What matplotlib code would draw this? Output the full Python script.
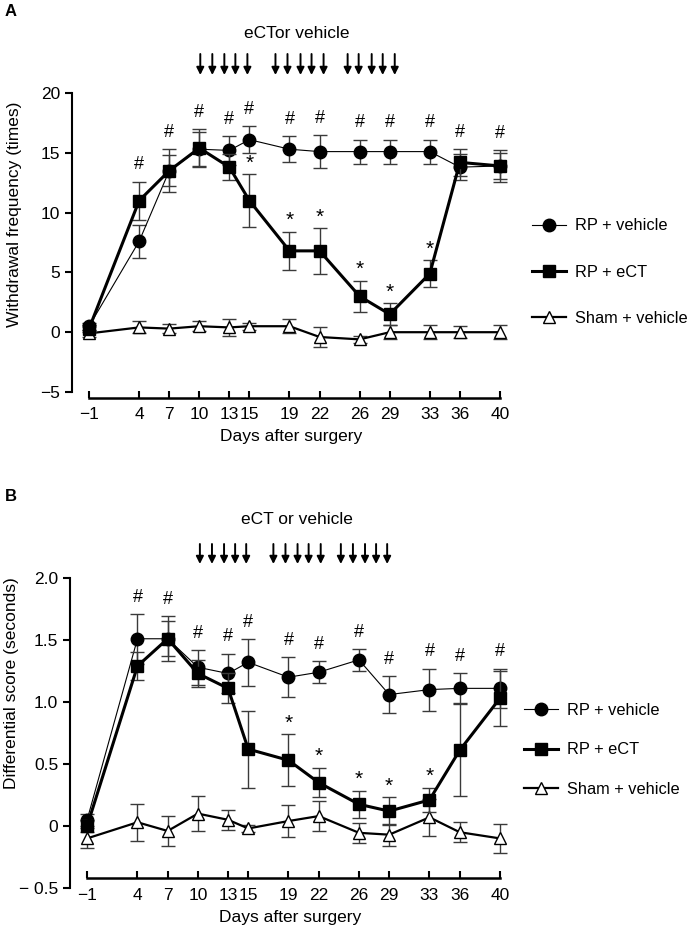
import matplotlib.pyplot as plt
from matplotlib.lines import Line2D

plt.rcParams['font.family'] = ['Liberation Sans', 'DejaVu Sans']
plt.rcParams['font.size'] = 12.5

days = [-1, 4, 7, 10, 13, 15, 19, 22, 26, 29, 33, 36, 40]

# panel A - withdrawal frequency
a_veh = [0.5, 7.6, 13.5, 15.3, 15.2, 16.1, 15.3, 15.1, 15.1, 15.1, 15.1, 13.8, 13.9]
a_veh_err = [0.3, 1.4, 1.8, 1.4, 1.2, 1.1, 1.1, 1.4, 1.0, 1.0, 1.0, 1.1, 1.3]
a_ect = [0.3, 11.0, 13.5, 15.4, 13.8, 11.0, 6.8, 6.8, 3.0, 1.5, 4.9, 14.2, 13.9]
a_ect_err = [0.3, 1.6, 1.3, 1.6, 1.1, 2.2, 1.6, 1.9, 1.3, 0.9, 1.1, 1.1, 1.1]
a_sham = [-0.1, 0.4, 0.3, 0.5, 0.4, 0.5, 0.5, -0.4, -0.6, 0.0, 0.0, 0.0, 0.0]
a_sham_err = [0.3, 0.5, 0.4, 0.4, 0.7, 0.3, 0.6, 0.8, 0.3, 0.6, 0.6, 0.5, 0.6]
a_hash_days = [4, 7, 10, 13, 15, 19, 22, 26, 29, 33, 36, 40]
a_star_days = [15, 19, 22, 26, 29, 33]
a_inject = [10.1, 11.3, 12.5, 13.6, 14.8, 17.6, 18.8, 20.1, 21.2, 22.4,
            24.8, 25.9, 27.2, 28.3, 29.5]

# panel B - differential score
b_veh = [0.05, 1.51, 1.51, 1.28, 1.23, 1.32, 1.20, 1.24, 1.34, 1.06, 1.10, 1.11, 1.11]
b_veh_err = [0.05, 0.20, 0.18, 0.14, 0.16, 0.19, 0.16, 0.09, 0.09, 0.15, 0.17, 0.12, 0.16]
b_ect = [0.0, 1.29, 1.51, 1.23, 1.11, 0.62, 0.53, 0.35, 0.175, 0.12, 0.21, 0.61, 1.03]
b_ect_err = [0.05, 0.11, 0.14, 0.11, 0.12, 0.31, 0.21, 0.12, 0.11, 0.11, 0.10, 0.37, 0.22]
b_sham = [-0.10, 0.03, -0.04, 0.10, 0.05, -0.02, 0.04, 0.08, -0.055, -0.07, 0.07, -0.05, -0.10]
b_sham_err = [0.08, 0.15, 0.12, 0.14, 0.08, 0.03, 0.13, 0.12, 0.08, 0.09, 0.15, 0.08, 0.12]
b_hash_days = [4, 7, 10, 13, 15, 19, 22, 26, 29, 33, 36, 40]
b_star_days = [19, 22, 26, 29, 33]
b_inject = [10.2, 11.4, 12.6, 13.7, 14.8, 17.5, 18.7, 19.9, 21.0, 22.2,
            24.2, 25.4, 26.6, 27.7, 28.8]

fig = plt.figure(figsize=(6.9, 9.38), dpi=100)
W, H = 690, 938


def panel(rect, veh, veh_err, ect, ect_err, sham, sham_err, hash_days, star_days,
          inject, ylim, yticks, yticklabels, ylabel, label_y, title, title_y,
          arrow_top, arrow_bot, xspine, legend_xy, legend_space, letter, letter_y):
    ax = fig.add_axes(rect)
    ekw = dict(ecolor='#3a3a3a', elinewidth=1, capsize=5, capthick=1)
    ax.errorbar(days, sham, yerr=sham_err, color='black', lw=1.6, marker='^',
                ms=9, mfc='white', mec='black', mew=1.0, zorder=3, **ekw)
    ax.errorbar(days, veh, yerr=veh_err, color='black', lw=0.8, marker='o',
                ms=9, mfc='black', zorder=4, **ekw)
    ax.errorbar(days, ect, yerr=ect_err, color='black', lw=2.2, marker='s',
                ms=9, mfc='black', zorder=5, **ekw)

    # significance marks
    for d in hash_days:
        i = days.index(d)
        top = max(veh[i] + veh_err[i], ect[i] + ect_err[i])
        ax.annotate('#', xy=(d, top), xytext=(0, 12), textcoords='offset points',
                    ha='center', va='center', fontsize=13)
    for d in star_days:
        i = days.index(d)
        ax.annotate('*', xy=(d, ect[i] + ect_err[i]), xytext=(0, 8),
                    textcoords='offset points', ha='center', va='center',
                    fontsize=15)

    # injection arrows
    for d in inject:
        ax.annotate('', xy=(d, arrow_bot), xytext=(d, arrow_top),
                    xycoords=('data', 'figure fraction'),
                    textcoords=('data', 'figure fraction'),
                    arrowprops=dict(arrowstyle='-|>', color='black', lw=1.4,
                                    mutation_scale=11, shrinkA=0, shrinkB=0))
    fig.text(0.43, title_y, title, ha='center', va='center', fontsize=12.5)
    fig.text(5 / W, letter_y, letter, fontweight='bold', fontsize=12,
             ha='left', va='center')

    ax.set_xlim(-2.7, 41)
    ax.set_ylim(*ylim)
    ax.set_xticks(days)
    ax.set_yticks(yticks)
    ax.set_yticklabels(yticklabels)
    for s in ['top', 'right']:
        ax.spines[s].set_visible(False)
    ax.spines['left'].set_linewidth(1.5)
    ax.spines['bottom'].set_linewidth(1.8)
    ax.spines['bottom'].set_bounds(-1, 40)
    ax.spines['bottom'].set_position(xspine)
    ax.tick_params(axis='x', direction='in', length=5, width=1.5, pad=7,
                   labelsize=12.5)
    ax.tick_params(axis='y', direction='out', length=5, width=1.5, labelsize=12.5)
    ax.set_xlabel('Days after surgery', fontsize=12.5, labelpad=5)
    ax.set_ylabel(ylabel, fontsize=12.5)
    ax.yaxis.set_label_coords(-0.115, label_y)
    for a in ax.get_children():
        if hasattr(a, 'set_clip_on'):
            a.set_clip_on(False)

    handles = [
        Line2D([], [], color='black', lw=0.8, marker='o', ms=9),
        Line2D([], [], color='black', lw=2.2, marker='s', ms=9),
        Line2D([], [], color='black', lw=1.6, marker='^', ms=9, mfc='white'),
    ]
    fig.legend(handles, ['RP + vehicle', 'RP + eCT', 'Sham + vehicle'],
               loc='center left', bbox_to_anchor=legend_xy, frameon=False,
               handlelength=2.1, handletextpad=0.5, labelspacing=legend_space,
               borderpad=0, borderaxespad=0, fontsize=11.8)
    return ax


panel([72 / W, 1 - 392 / H, 438 / W, 299 / H],
      a_veh, a_veh_err, a_ect, a_ect_err, a_sham, a_sham_err,
      a_hash_days, a_star_days, a_inject,
      (-5, 20), [-5, 0, 5, 10, 15, 20], ['\u22125', '0', '5', '10', '15', '20'],
      'Withdrawal frequency (times)', 0.595,
      'eCTor vehicle', 1 - 33 / H, 1 - 54 / H, 1 - 75 / H,
      ('outward', 4), (532 / W, 1 - 272 / H), 1.9, 'A', 1 - 12 / H)

panel([70 / W, 1 - 888 / H, 440 / W, 310 / H],
      b_veh, b_veh_err, b_ect, b_ect_err, b_sham, b_sham_err,
      b_hash_days, b_star_days, b_inject,
      (-0.5, 2.0), [-0.5, 0, 0.5, 1.0, 1.5, 2.0],
      ['\u2212 0.5', '0', '0.5', '1.0', '1.5', '2.0'],
      'Differential score (seconds)', 0.66,
      'eCT or vehicle', 1 - 520 / H, 1 - 544 / H, 1 - 564 / H,
      ('data', -0.42), (524 / W, 1 - 750 / H), 1.5, 'B', 1 - 496 / H)

fig.savefig('out.png', dpi=100)
